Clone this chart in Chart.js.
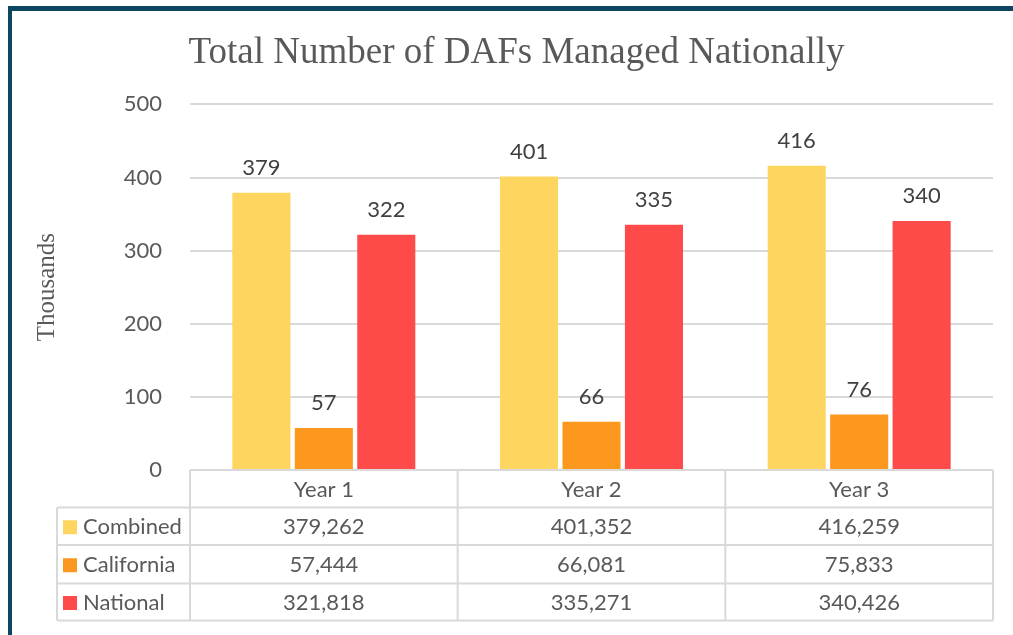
<!DOCTYPE html>
<html><head><meta charset="utf-8">
<script src="https://cdn.jsdelivr.net/npm/chart.js@4.4.1/dist/chart.umd.min.js"></script>
<style>
html,body{margin:0;padding:0;background:#fff;}
#wrap{position:absolute;left:0;top:0;width:1013px;height:635px;overflow:hidden;}
#frame{position:absolute;left:8px;top:6px;right:-10px;bottom:-10px;border-left:4px solid #0c4660;border-top:5px solid #0c4660;pointer-events:none;}
canvas{position:absolute;left:0;top:0;}
</style></head><body>
<div id="wrap"><canvas id="c" width="1013" height="635"></canvas><div id="frame"></div></div>
<script>
const categories = ['Year 1', 'Year 2', 'Year 3'];
const seriesNames = ['Combined', 'California', 'National'];
const combined = [379262, 401352, 416259];
const california = [57444, 66081, 75833];
const national = [321818, 335271, 340426];
const yTickMin = 0, yTickMax = 500, yTickStep = 100;
const seriesColors = ['#FED55F', '#FD981F', '#FF4A4A'];
const allSeries = [combined, california, national];

const SANS = 'Lato, "Noto Sans", sans-serif';
const SERIF = '"Liberation Serif", "DejaVu Serif", serif';
const TEXT = '#595959';
const LINE = '#d9d9d9';

const dataLabels = {
  id: 'dataLabels',
  afterDatasetsDraw(chart) {
    const ctx = chart.ctx;
    ctx.save();
    ctx.font = '22px ' + SANS;
    ctx.fillStyle = '#404040';
    ctx.textAlign = 'center';
    ctx.textBaseline = 'alphabetic';
    chart.data.datasets.forEach((ds, di) => {
      const meta = chart.getDatasetMeta(di);
      meta.data.forEach((bar, i) => {
        const raw = allSeries[di][i];
        ctx.fillText(String(Math.round(raw / 1000)), bar.x, bar.y - 18);
      });
    });
    ctx.restore();
  }
};

const dataTable = {
  id: 'dataTable',
  afterDraw(chart) {
    const ctx = chart.ctx;
    const x = chart.scales.x;
    const area = chart.chartArea;
    const n = categories.length;
    const cw = (x.right - x.left) / n;
    const tableLeft = 57;
    const rowH = [37.5, 37.5, 38.5, 37];
    const rowsY = [area.bottom];
    rowH.forEach(h => rowsY.push(rowsY[rowsY.length - 1] + h));
    ctx.save();
    ctx.strokeStyle = LINE;
    ctx.lineWidth = 2;
    ctx.beginPath();
    ctx.moveTo(x.left, rowsY[0]); ctx.lineTo(x.right, rowsY[0]);
    for (let r = 1; r < rowsY.length; r++) {
      ctx.moveTo(tableLeft, rowsY[r]); ctx.lineTo(x.right, rowsY[r]);
    }
    ctx.moveTo(tableLeft, rowsY[1]); ctx.lineTo(tableLeft, rowsY[rowsY.length - 1]);
    for (let c = 0; c <= n; c++) {
      const px = x.left + c * cw;
      ctx.moveTo(px, rowsY[0]); ctx.lineTo(px, rowsY[rowsY.length - 1]);
    }
    ctx.stroke();

    ctx.font = '22px ' + SANS;
    ctx.fillStyle = TEXT;
    ctx.textAlign = 'center';
    ctx.textBaseline = 'middle';
    categories.forEach((c, i) => {
      ctx.fillText(c, x.getPixelForValue(i), (rowsY[0] + rowsY[1]) / 2 + 1);
    });
    seriesNames.forEach((name, s) => {
      const cy = (rowsY[s + 1] + rowsY[s + 2]) / 2 + 1;
      ctx.fillStyle = seriesColors[s];
      ctx.fillRect(tableLeft + 6, cy - 7, 14, 14);
      ctx.fillStyle = TEXT;
      ctx.textAlign = 'left';
      ctx.fillText(name, tableLeft + 26, cy);
      ctx.textAlign = 'center';
      allSeries[s].forEach((v, i) => {
        ctx.fillText(v.toLocaleString('en-US'), x.getPixelForValue(i), cy);
      });
    });
    ctx.restore();
  }
};

new Chart(document.getElementById('c'), {
  type: 'bar',
  data: {
    labels: categories,
    datasets: seriesNames.map((name, s) => ({
      label: name,
      data: allSeries[s].map(v => v / 1000),
      backgroundColor: seriesColors[s],
      borderWidth: 0,
      barPercentage: 0.93,
      categoryPercentage: 0.70
    }))
  },
  options: {
    responsive: false,
    animation: false,
    devicePixelRatio: 1,
    layout: { padding: { left: 40, right: 20, top: 0, bottom: 165 } },
    plugins: {
      legend: { display: false },
      tooltip: { enabled: false },
      title: {
        display: true,
        text: 'Total Number of DAFs Managed Nationally',
        color: TEXT,
        font: { family: SERIF, size: 37, weight: 'normal' },
        padding: { top: 31, bottom: 29 }
      }
    },
    scales: {
      x: { display: false },
      y: {
        min: yTickMin, max: yTickMax,
        ticks: { stepSize: yTickStep, color: TEXT, font: { family: SANS, size: 22 }, padding: 28 },
        grid: { color: LINE, lineWidth: 2, drawTicks: false },
        border: { display: false },
        title: { display: true, text: 'Thousands', color: TEXT, font: { family: SERIF, size: 25, weight: 'normal' }, padding: { top: -8, bottom: 0 } },
        afterFit(scale) { scale.width = 150; }
      }
    }
  },
  plugins: [dataLabels, dataTable]
});
</script>
</body></html>
